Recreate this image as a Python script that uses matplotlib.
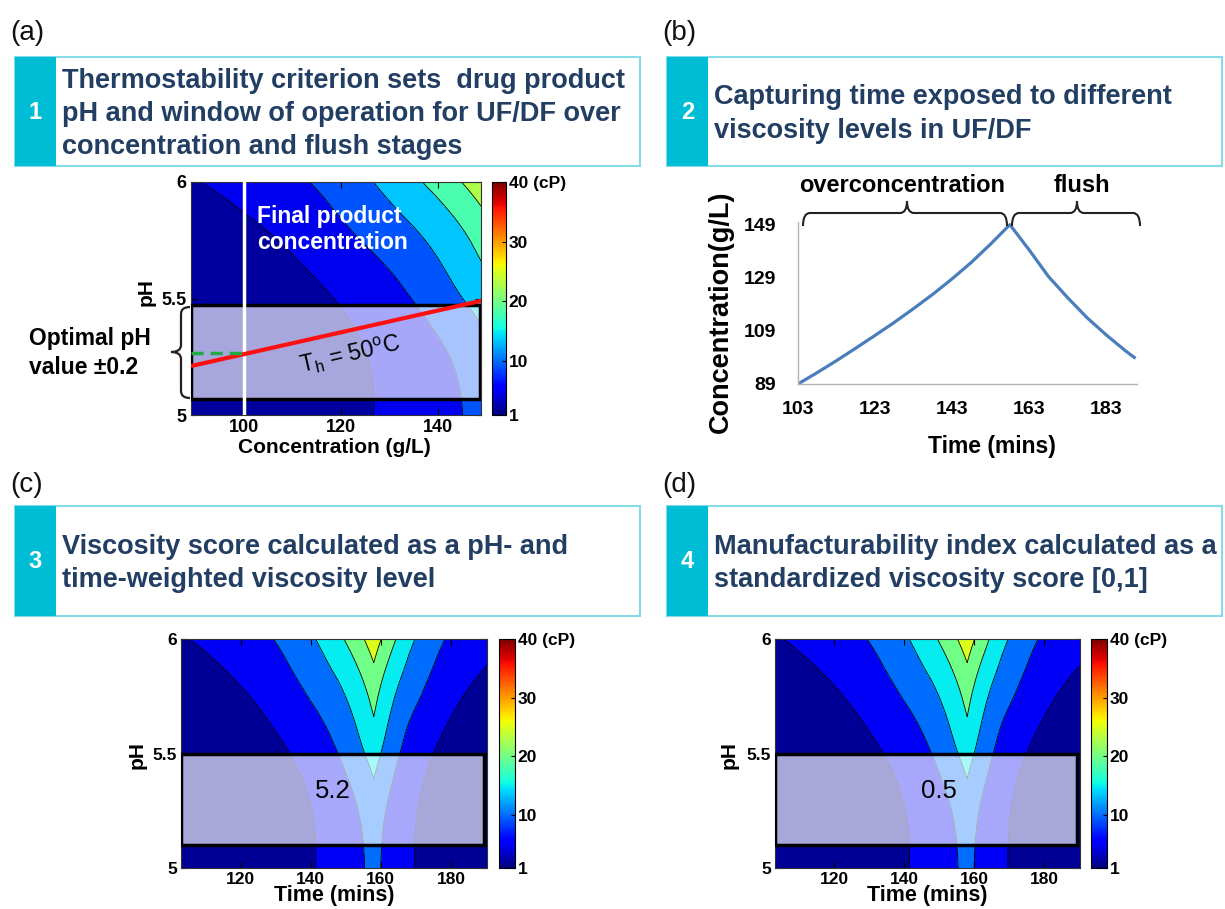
import numpy as np
import matplotlib
matplotlib.use("Agg")
import matplotlib.pyplot as plt
import matplotlib.tri as mtri
from matplotlib.patches import Rectangle, PathPatch
from matplotlib.path import Path
from matplotlib.colors import Normalize
from matplotlib.cm import ScalarMappable

plt.rcParams['font.family'] = ['Liberation Sans', 'DejaVu Sans']
plt.rcParams['mathtext.fontset'] = 'custom'
plt.rcParams['mathtext.rm'] = 'Liberation Sans'
plt.rcParams['mathtext.it'] = 'Liberation Sans:italic'
plt.rcParams['mathtext.bf'] = 'Liberation Sans:bold'

W, H = 1225, 909

# ---------------- data ----------------
# viscosity (cP) on a concentration x pH grid (a)
conc_grid = [89, 99, 109, 119, 129, 139, 149]
ph_grid = [5.0, 5.25, 5.5, 5.75, 6.0]
visc_pH500 = [1.10, 1.65, 2.50, 3.70, 5.45, 7.95, 11.5]
visc_pH525 = [1.15, 1.72, 2.60, 3.85, 5.79, 8.71, 12.9]
visc_pH550 = [1.36, 2.12, 3.30, 5.11, 7.90, 11.9, 17.1]
visc_pH575 = [2.44, 3.64, 5.46, 8.29, 11.7, 15.7, 21.6]
visc_pH600 = [4.70, 6.40, 8.70, 11.8, 16.0, 21.2, 28.0]
visc_levels = [0, 5, 10, 15, 20, 25, 30, 35, 40]

# panel (b): concentration profile during UF/DF
time_min = [103, 108, 113, 118, 123, 128, 133, 138, 143, 148, 153, 158,
            163, 168, 173, 178, 183, 188, 190.3]
conc_gL = [89, 93.3, 97.8, 102.5, 107.3, 112.2, 117.4, 122.8, 128.6, 134.8, 141.7, 149,
           139.5, 129.5, 121.5, 114, 107.5, 101.5, 99]
conc_ticks = [89, 109, 129, 149]
time_ticks_b = [103, 123, 143, 163, 183]

# annotations of panel (a)
final_conc = 100
th50_conc = [89, 149]
th50_ph = [5.21, 5.49]
optimal_ph = 5.265
window_a = [5.07, 5.47]
window_cd = [5.10, 5.50]
score_c = "5.2"
index_d = "0.5"

headers = [
    ("(a)", "1", ["Thermostability criterion sets  drug product",
                  "pH and window of operation for UF/DF over",
                  "concentration and flush stages"]),
    ("(b)", "2", ["Capturing time exposed to different",
                  "viscosity levels in UF/DF"]),
    ("(c)", "3", ["Viscosity score calculated as a pH- and",
                  "time-weighted viscosity level"]),
    ("(d)", "4", ["Manufacturability index calculated as a",
                  "standardized viscosity score [0,1]"]),
]

# ---------------- helpers ----------------
fig = plt.figure(figsize=(W / 100, H / 100), dpi=100)


def px_axes(x0, y0, x1, y1, **kw):
    return fig.add_axes([x0 / W, 1 - y1 / H, (x1 - x0) / W, (y1 - y0) / H], **kw)


def ftext(x, y, s, **kw):
    return fig.text(x / W, 1 - y / H, s, **kw)


jet = plt.get_cmap('jet')
cols_a = [jet(p) for p in [0.03, 0.10, 0.21, 0.32, 0.44, 0.56, 0.68, 0.80]]
cols_cd = [jet(p) for p in [0.02, 0.103, 0.231, 0.359, 0.487, 0.615, 0.74, 0.87]]

visc = np.array([visc_pH500, visc_pH525, visc_pH550, visc_pH575, visc_pH600])
nx, ny = len(conc_grid), len(ph_grid)
Cg, Pg = np.meshgrid(conc_grid, ph_grid)
c0, c1 = conc_grid[0], conc_grid[-1]
p0, p1 = ph_grid[0], ph_grid[-1]
xs = (Cg - c0) / (c1 - c0)
ys = (Pg - p0) / (p1 - p0)
tris = []
for j in range(ny - 1):
    for i in range(nx - 1):
        a = j * nx + i
        tris += [[a, a + 1, a + nx + 1], [a, a + nx + 1, a + nx]]
tri = mtri.Triangulation(xs.ravel(), ys.ravel(), np.array(tris))
interp = mtri.CubicTriInterpolator(tri, np.log(visc).ravel(), kind='min_E')


def viscosity(C, pH):
    u = np.clip((C - c0) / (c1 - c0), 1e-9, 1 - 1e-9)
    v = np.clip((pH - p0) / (p1 - p0), 1e-9, 1 - 1e-9)
    return np.exp(np.ma.filled(interp(u, v), 0.0))


def style_contour_axes(ax, fs=12):
    ax.tick_params(direction='in', length=4, width=0.8, top=True, right=True,
                   labelsize=fs, pad=3)
    for lab in ax.get_xticklabels() + ax.get_yticklabels():
        lab.set_fontweight('bold')
    for s in ax.spines.values():
        s.set_linewidth(0.8)
        s.set_color('#333333')


def add_cbar(x0, y0, x1, y1):
    cax = px_axes(x0, y0, x1, y1)
    sm = ScalarMappable(norm=Normalize(1, 40), cmap='jet')
    cb = fig.colorbar(sm, cax=cax, ticks=[1, 10, 20, 30, 40])
    cb.ax.set_yticklabels(['1', '10', '20', '30', '40 (cP)'], fontsize=12.5,
                          fontweight='bold')
    cb.ax.tick_params(direction='in', length=3, width=0.8, pad=2)
    cb.outline.set_linewidth(0.8)
    return cb


# ---------------- panel (a) ----------------
ax_a = px_axes(191, 182, 481, 415)
C_f = np.linspace(c0, c1, 301)
P_f = np.linspace(5, 6, 201)
CC, PP = np.meshgrid(C_f, P_f)
VA = viscosity(CC, PP)
ax_a.contourf(CC, PP, VA, levels=visc_levels, colors=cols_a)
ax_a.contour(CC, PP, VA, levels=visc_levels[1:-1], colors='k', linewidths=0.6)
ax_a.add_patch(Rectangle((c0, window_a[0]), 59.8, window_a[1] - window_a[0],
                         facecolor=(1, 1, 1, 0.66), edgecolor='k', lw=2.5, zorder=3))
ax_a.axvline(final_conc, color='white', lw=2.5, zorder=4)
ax_a.plot(th50_conc, th50_ph, color='#FF1010', lw=3, zorder=5, solid_capstyle='butt')
ax_a.plot([c0, final_conc], [optimal_ph, optimal_ph], color='#22AA44', lw=2.5,
          ls=(0, (3.5, 2)), zorder=5)
ax_a.text(102.7, 5.795, "Final product\nconcentration", color='white', fontsize=16.5,
          fontweight='bold', ha='left', va='center', linespacing=1.15, zorder=6)
ax_a.text(122.0, 5.257, r"T$_{\mathregular{h}}$ = 50$^{\mathregular{o}}$C", fontsize=16.5,
          rotation=13, rotation_mode='anchor', ha='center', va='center', zorder=6)
ax_a.set_xlim(c0, c1)
ax_a.set_ylim(5, 6)
ax_a.set_xticks([100, 120, 140])
ax_a.set_yticks([5, 5.5, 6])
ax_a.set_yticklabels(['5', '5.5', '6'])
style_contour_axes(ax_a, fs=13)
add_cbar(492, 182, 506, 415)
ftext(146, 292, "pH", rotation=90, fontsize=15, fontweight='bold', ha='center', va='center')
ftext(334, 447, "Concentration (g/L)", fontsize=15, fontweight='bold', ha='center', va='center')
ftext(29, 338, "Optimal pH", fontsize=16.5, fontweight='bold', ha='left', va='center')
ftext(29, 368, "value \u00b10.2", fontsize=16.5, fontweight='bold', ha='left', va='center')

# ---------------- panel (b) ----------------
ax_b = px_axes(798, 222, 1137, 384)
ax_b.patch.set_alpha(0)
ax_b.plot(time_min, conc_gL, color='#4A7EBB', lw=2.3)
ax_b.set_xlim(103, 191)
ax_b.set_ylim(89, 150)
ax_b.set_xticks(time_ticks_b)
ax_b.set_yticks(conc_ticks)
for side in ['top', 'right']:
    ax_b.spines[side].set_visible(False)
for side in ['left', 'bottom']:
    ax_b.spines[side].set_color('#B3B3B3')
    ax_b.spines[side].set_linewidth(1.0)
ax_b.tick_params(length=0, labelsize=14, pad=12)
ax_b.tick_params(axis='y', pad=16)
for lab in ax_b.get_xticklabels() + ax_b.get_yticklabels():
    lab.set_fontweight('bold')
ftext(721, 312, "Concentration(g/L)", rotation=90, fontsize=19.5, fontweight='bold',
      ha='center', va='center')
ftext(992, 446, "Time (mins)", fontsize=16.5, fontweight='bold', ha='center', va='center')
ftext(902, 186, "overconcentration", fontsize=17, fontweight='bold', ha='center', va='center')
ftext(1082, 186, "flush", fontsize=17, fontweight='bold', ha='center', va='center')

# ---------------- panels (c) and (d) ----------------
t_f = np.union1d(np.linspace(time_min[0], time_min[-1], 500), time_min)
Ct = np.interp(t_f, time_min, conc_gL)
TT, PPt = np.meshgrid(t_f, P_f)
CCt, _ = np.meshgrid(Ct, P_f)
VT = viscosity(CCt, PPt)

for (x0, x1, cbx0, cbx1, label, txt_t, ph_lab_x) in [
        (181, 487, 499, 515, score_c, 146.3, 137),
        (775, 1080, 1091, 1107, index_d, 149.8, 729)]:
    ax = px_axes(x0, 639, x1, 868)
    ax.contourf(TT, PPt, VT, levels=visc_levels, colors=cols_cd)
    ax.contour(TT, PPt, VT, levels=visc_levels[1:-1], colors='k', linewidths=0.6)
    ax.add_patch(Rectangle((time_min[0], window_cd[0]), time_min[-1] - time_min[0] - 0.8,
                           window_cd[1] - window_cd[0], facecolor=(1, 1, 1, 0.66),
                           edgecolor='k', lw=2.5, zorder=3))
    ax.text(txt_t, 5.335, label, fontsize=18.5, ha='center', va='center', zorder=6)
    ax.set_xlim(time_min[0], time_min[-1])
    ax.set_ylim(5, 6)
    ax.set_xticks([120, 140, 160, 180])
    ax.set_yticks([5, 5.5, 6])
    ax.set_yticklabels(['5', '5.5', '6'])
    style_contour_axes(ax, fs=12.5)
    add_cbar(cbx0, 639, cbx1, 868)
    ftext(ph_lab_x, 755, "pH", rotation=90, fontsize=15, fontweight='bold',
          ha='center', va='center')
    ftext((x0 + x1) / 2, 896, "Time (mins)", fontsize=15.5, fontweight='bold',
          ha='center', va='center')

# ---------------- overlay: headers, braces ----------------
ov = fig.add_axes([0, 0, 1, 1], zorder=10)
ov.set_xlim(0, W)
ov.set_ylim(H, 0)
ov.axis('off')
ov.patch.set_alpha(0)

box_specs = [(15, 640, 57, 166, 33), (667, 1222, 57, 166, 33),
             (15, 640, 506, 616, 485), (667, 1222, 506, 616, 485)]
teal = '#00BDD6'
navy_txt = '#223E63'
for (x0, x1, y0, y1, ylab), (lab, num, lines) in zip(box_specs, headers):
    ov.text(x0 - 5, ylab, lab, fontsize=20, ha='left', va='center', color='#111111')
    ov.add_patch(Rectangle((x0, y0), x1 - x0, y1 - y0, facecolor='white',
                           edgecolor='#86DCE6', lw=1.5))
    ov.add_patch(Rectangle((x0, y0), 41, y1 - y0, facecolor=teal, edgecolor='none'))
    yc = (y0 + y1) / 2
    ov.text(x0 + 20.5, yc + 1, num, fontsize=17, fontweight='bold', color='white',
            ha='center', va='center')
    n = len(lines)
    step = 33
    for k, line in enumerate(lines):
        yy = yc + 2.5 + (k - (n - 1) / 2) * step
        ov.text(x0 + 47, yy, line, fontsize=19.5, fontweight='bold', color=navy_txt,
                ha='left', va='center')


def hbrace(x0, x1, xm, y_tip, y_bar, y_cusp, r=7):
    verts = [(x0, y_tip), (x0, y_bar), (x0 + r, y_bar), (xm - r, y_bar),
             (xm, y_bar), (xm, y_cusp), (xm, y_bar), (xm + r, y_bar),
             (x1 - r, y_bar), (x1, y_bar), (x1, y_tip)]
    codes = [Path.MOVETO, Path.CURVE3, Path.CURVE3, Path.LINETO, Path.CURVE3, Path.CURVE3,
             Path.CURVE3, Path.CURVE3, Path.LINETO, Path.CURVE3, Path.CURVE3]
    ov.add_patch(PathPatch(Path(verts, codes), fill=False, lw=1.5, color='#222222'))


def vbrace(y0, y1, ym, x_tip, x_bar, x_cusp, r=7):
    verts = [(x_tip, y0), (x_bar, y0), (x_bar, y0 + r), (x_bar, ym - r),
             (x_bar, ym), (x_cusp, ym), (x_bar, ym), (x_bar, ym + r),
             (x_bar, y1 - r), (x_bar, y1), (x_tip, y1)]
    codes = [Path.MOVETO, Path.CURVE3, Path.CURVE3, Path.LINETO, Path.CURVE3, Path.CURVE3,
             Path.CURVE3, Path.CURVE3, Path.LINETO, Path.CURVE3, Path.CURVE3]
    ov.add_patch(PathPatch(Path(verts, codes), fill=False, lw=1.6, color='#222222'))


hbrace(803, 1007, 907, 226, 213, 201)
hbrace(1012, 1140, 1077, 226, 213, 201)
vbrace(307, 398, 352, 190, 181, 171)

fig.savefig("out.png", dpi=100)
